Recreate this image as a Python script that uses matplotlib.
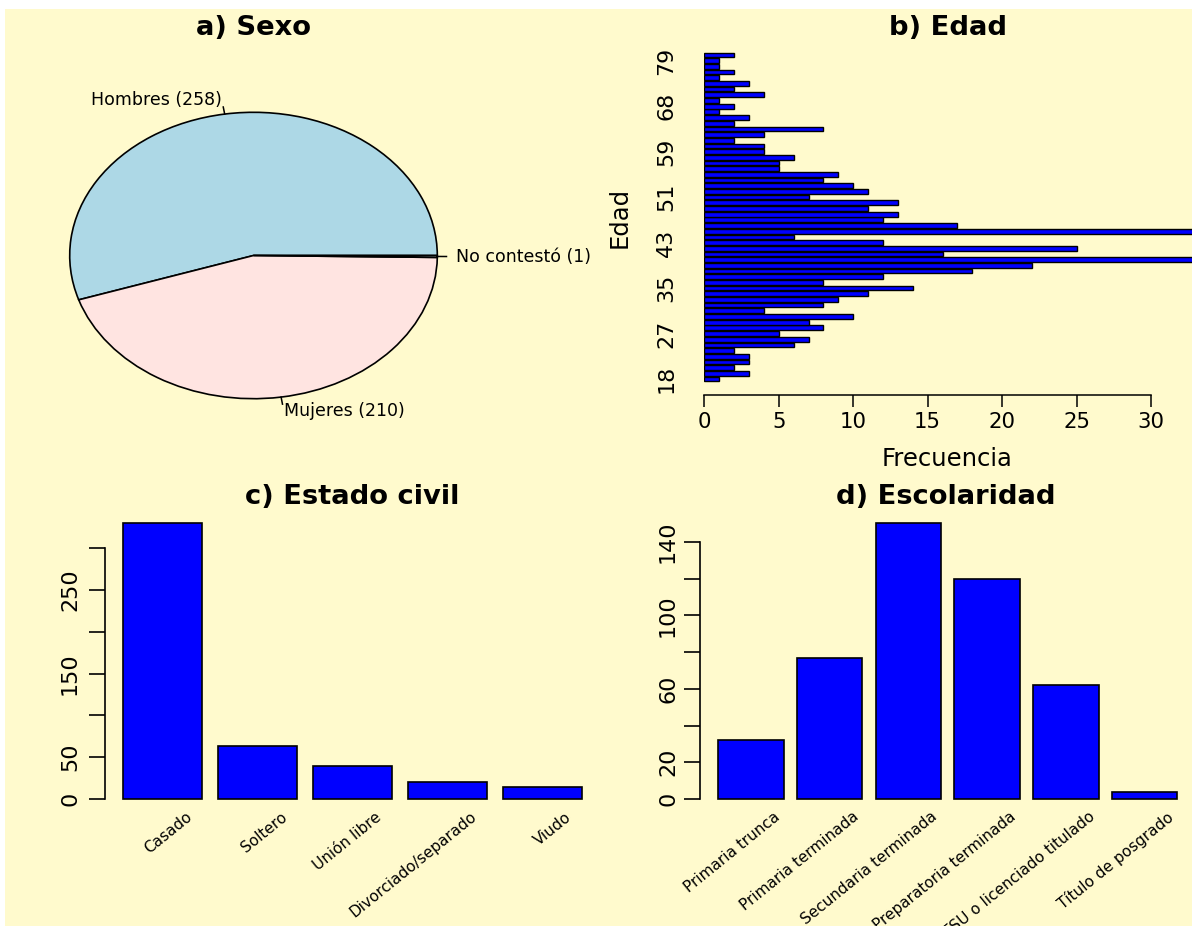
import matplotlib
matplotlib.use('Agg')
import matplotlib.pyplot as plt
from matplotlib.patches import Rectangle
from matplotlib.transforms import offset_copy
import numpy as np

# ---------------- data ----------------
sexo_labels = ['Hombres', 'Mujeres', 'No contestó']
sexo_counts = [258, 210, 1]
sexo_colors = ['#ADD8E6', '#FFE4E1', '#E0FFFF']

edad_ages = [18, 19, 20, 21, 22, 23, 24, 25, 27, 28, 29, 30, 31, 32, 33, 34,
             35, 36, 37, 38, 39, 40, 41, 42, 43, 44, 45, 46, 47, 48, 49, 50,
             51, 52, 53, 54, 55, 56, 57, 58, 59, 60, 61, 62, 63, 64, 66, 67,
             68, 69, 70, 72, 73, 75, 76, 78, 79, 80]
edad_counts = [1, 3, 2, 3, 3, 2, 6, 7, 5, 8, 7, 10, 4, 8, 9, 11,
               14, 8, 12, 18, 22, 36, 16, 25, 12, 6, 35, 17, 12, 13, 11, 13,
               7, 11, 10, 8, 9, 5, 5, 6, 4, 4, 2, 4, 8, 2, 3, 1,
               2, 1, 4, 2, 3, 1, 2, 1, 1, 2]
edad_tick_labels = ['18', '27', '35', '43', '51', '59', '68', '79']
edad_xticks = [0, 5, 10, 15, 20, 25, 30]

civil_labels = ['Casado', 'Soltero', 'Unión libre', 'Divorciado/separado', 'Viudo']
civil_counts = [330, 64, 40, 20, 14]
civil_yticks = [0, 50, 100, 150, 200, 250, 300]
civil_ytick_labels = ['0', '50', '', '150', '', '250', '']

esc_labels = ['Primaria trunca', 'Primaria terminada', 'Secundaria terminada',
              'Preparatoria terminada', 'TSU o licenciado titulado', 'Título de posgrado']
esc_counts = [32, 77, 150, 120, 62, 4]
esc_yticks = [0, 20, 40, 60, 80, 100, 120, 140]
esc_ytick_labels = ['0', '20', '', '60', '', '100', '', '140']

# ---------------- figure ----------------
W, H = 1192, 926
DPI = 100
fig = plt.figure(figsize=(W / DPI, H / DPI), dpi=DPI, facecolor='white')
BG = '#FFFACD'
fig.add_artist(Rectangle((5 / W, 0), 1 - 5 / W, 1 - 9 / H, transform=fig.transFigure,
                         facecolor=BG, edgecolor='none', zorder=-10))

PT = 72 / DPI  # points per pixel


def px_axes(l, t, r, b):
    ax = fig.add_axes([l / W, 1 - b / H, (r - l) / W, (b - t) / H])
    ax.patch.set_alpha(0)
    return ax


TICK_FS = 15.3
VTICK_FS = 16
LAB_FS = 17.5
TITLE_FS = 19.7
PIE_FS = 12.5
CAT_FS = 11.0


def title(x, y, s):
    fig.text(x / W, 1 - y / H, s, ha='center', va='center', fontsize=TITLE_FS, fontweight='bold')


# ---------------- a) Sexo ----------------
axa = px_axes(40, 60, 560, 440)
cx, cy, rx, ry = 253.5, 255.5, 183.8, 143.2
axa.pie(sexo_counts, colors=sexo_colors, startangle=0, counterclock=True, radius=1,
        wedgeprops=dict(edgecolor='black', linewidth=1.2))
axa.set_aspect('auto')
axa.set_xlim((40 - cx) / rx, (560 - cx) / rx)
axa.set_ylim(-(440 - cy) / ry, -(60 - cy) / ry)
axa.axis('off')
total = sum(sexo_counts)
cum = np.cumsum([0] + sexo_counts)
for i, (lab, c) in enumerate(zip(sexo_labels, sexo_counts)):
    mid = np.deg2rad((cum[i] + c / 2) / total * 360)
    x, y = np.cos(mid), np.sin(mid)
    axa.plot([x, 1.05 * x], [y, 1.05 * y], color='black', lw=1.1, clip_on=False)
    axa.text(1.1 * x, 1.1 * y, f'{lab} ({c})', ha='left' if x > 0 else 'right',
             va='center', fontsize=PIE_FS, clip_on=False)
title(254, 28, 'a) Sexo')

# ---------------- b) Edad ----------------
axb = px_axes(704.3, 45, 1192, 390)
ypos = np.arange(len(edad_counts))
axb.barh(ypos, edad_counts, height=0.833, color='#0000FF', edgecolor='black', linewidth=1.0)
axb.set_xlim(0, (1192 - 704.3) / 14.89)
axb.set_ylim(-(390 - 379) / 5.684, (len(edad_counts) - 1) + (55 - 45) / 5.684)
for s in ['left', 'right', 'top']:
    axb.spines[s].set_visible(False)
axb.spines['bottom'].set_position(('outward', 5 * PT))
axb.spines['bottom'].set_bounds(edad_xticks[0], edad_xticks[-1])
axb.spines['bottom'].set_linewidth(1.1)
axb.set_xticks(edad_xticks)
axb.set_xticklabels([str(v) for v in edad_xticks])
axb.tick_params(axis='x', length=12 * PT, width=1.1, pad=5 * PT, labelsize=TICK_FS)
axb.set_yticks([edad_ages.index(int(l)) for l in edad_tick_labels])
axb.set_yticklabels(edad_tick_labels, rotation=90, va='center')
axb.tick_params(axis='y', length=0, pad=28 * PT, labelsize=VTICK_FS)
fig.text(946.7 / W, 1 - 459.3 / H, 'Frecuencia', ha='center', va='center', fontsize=LAB_FS)
fig.text(620 / W, 1 - 217 / H, 'Edad', ha='center', va='center', rotation=90, fontsize=LAB_FS)
title(948, 28, 'b) Edad')


def barpanel(ax, labels, counts, yticks, yticklabels, ytick_len_px, pad_px):
    xpos = np.arange(len(counts))
    ax.bar(xpos, counts, width=0.833, color='#0000FF', edgecolor='black', linewidth=1.2)
    for s in ['bottom', 'right', 'top']:
        ax.spines[s].set_visible(False)
    ax.spines['left'].set_bounds(yticks[0], yticks[-1])
    ax.spines['left'].set_linewidth(1.2)
    ax.set_yticks(yticks)
    ax.set_yticklabels(yticklabels, rotation=90, va='center')
    ax.tick_params(axis='y', length=ytick_len_px * PT, width=1.2, pad=pad_px * PT,
                   labelsize=VTICK_FS)
    ax.set_xticks([])
    tr = offset_copy(ax.transData, fig=fig, x=27 * PT, y=-16 * PT, units='points')
    for i, lab in enumerate(labels):
        ax.text(xpos[i], 0, lab, transform=tr, rotation=39, rotation_mode='anchor',
                ha='right', va='center', fontsize=CAT_FS, clip_on=False)


# ---------------- c) Estado civil ----------------
axc = px_axes(105, 515, 600, 810)
barpanel(axc, civil_labels, civil_counts, civil_yticks, civil_ytick_labels, 16, 9)
axc.set_xlim((105 - 163) / 95, (len(civil_counts) - 1) + (600 - 542.5) / 95)
axc.set_ylim(-(810 - 799) / 0.8357, (799 - 515) / 0.8357)
title(352, 497, 'c) Estado civil')

# ---------------- d) Escolaridad ----------------
axd = px_axes(700, 515, 1192, 810)
barpanel(axd, esc_labels, esc_counts, esc_yticks, esc_ytick_labels, 16, 6)
axd.set_xlim((700 - 750.9) / 78.7, (len(esc_counts) - 1) + (1192 - 1144.5) / 78.7)
axd.set_ylim(-(810 - 799) / 1.837, (799 - 515) / 1.837)
title(946, 497, 'd) Escolaridad')

fig.savefig('out.png', dpi=DPI, facecolor=fig.get_facecolor())
